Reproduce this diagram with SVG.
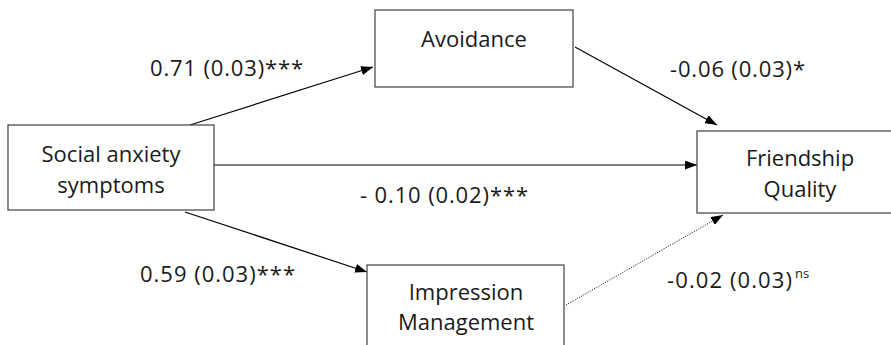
<svg xmlns="http://www.w3.org/2000/svg" width="891" height="345" viewBox="0 0 891 345">
<style>
.box{fill:#fff;stroke:#404040;stroke-width:1.2}
.t{font-family:"Open Sans","Noto Sans",sans-serif;font-size:22px;fill:#1a1a1a}
.c{text-anchor:middle}
.ln{stroke:#000;stroke-width:1.2;fill:none}
.dot{stroke:#000;stroke-width:1;fill:none;stroke-dasharray:1 1.5}
</style>
<defs>
<marker id="ah" markerWidth="13" markerHeight="9" refX="12" refY="4.5" orient="auto" markerUnits="userSpaceOnUse">
<path d="M0,0 L12,4.5 L0,9 z" fill="#000"/>
</marker>
</defs>
<rect width="891" height="345" fill="#fff"/>
<g id="connectors">
<line class="ln" x1="190" y1="125" x2="373" y2="67" marker-end="url(#ah)"/>
<line class="ln" x1="575" y1="47" x2="717" y2="125" marker-end="url(#ah)"/>
<line class="ln" x1="214" y1="165" x2="697" y2="165" marker-end="url(#ah)"/>
<line class="ln" x1="185" y1="212" x2="367" y2="272" marker-end="url(#ah)"/>
<line class="dot" x1="566" y1="305" x2="723" y2="215" marker-end="url(#ah)"/>
</g>
<g id="labels">
<text class="t" x="150" y="76" textLength="153">0.71 (0.03)***</text>
<text class="t" x="670" y="77" textLength="135">-0.06 (0.03)*</text>
<text class="t" x="360" y="203" textLength="168">- 0.10 (0.02)***</text>
<text class="t" x="140" y="282" textLength="155">0.59 (0.03)***</text>
<text class="t" x="667" y="288" textLength="125">-0.02 (0.03)</text>
<text class="t" x="795" y="278" style="font-size:13px">ns</text>
</g>
<g id="avoidance">
<rect class="box" x="375" y="10" width="198" height="77"/>
<text class="t c" x="474" y="47">Avoidance</text>
</g>
<g id="social-anxiety">
<rect class="box" x="8" y="125" width="206" height="85"/>
<text class="t c" x="111" y="162">Social anxiety</text>
<text class="t c" x="111" y="193">symptoms</text>
</g>
<g id="friendship-quality">
<rect class="box" x="697" y="131" width="196" height="82"/>
<text class="t c" x="800" y="166">Friendship</text>
<text class="t c" x="800" y="197">Quality</text>
</g>
<g id="impression-management">
<rect class="box" x="367" y="265" width="197" height="90"/>
<text class="t c" x="466" y="300">Impression</text>
<text class="t c" x="466" y="330">Management</text>
</g>
</svg>
